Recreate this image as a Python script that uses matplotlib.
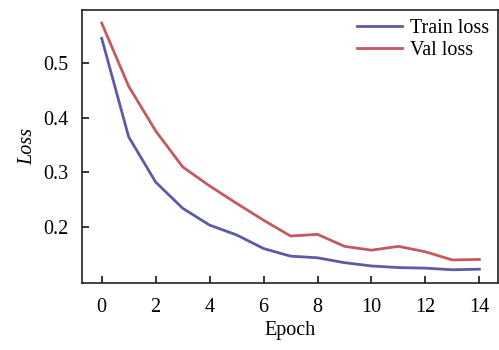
import matplotlib.pyplot as plt

plt.rcParams['font.family'] = ['Liberation Serif', 'DejaVu Serif']

epochs = list(range(15))
train_loss = [0.546, 0.365, 0.282, 0.234, 0.203, 0.185, 0.160, 0.146, 0.143,
              0.134, 0.128, 0.125, 0.124, 0.121, 0.122]
val_loss = [0.574, 0.458, 0.376, 0.310, 0.275, 0.243, 0.212, 0.183, 0.186,
            0.164, 0.157, 0.164, 0.154, 0.139, 0.140]

fig = plt.figure(figsize=(4.99, 3.5), dpi=100)
ax = fig.add_axes([82/499, 1 - 283/350, (498-82)/499, (283-10)/350])

ax.plot(epochs, train_loss, color='#5b5ba8', lw=2, label='Train loss')
ax.plot(epochs, val_loss, color='#c25a60', lw=2, label='Val loss')

ax.set_xlim(-0.73, 14.69)
ax.set_ylim(0.0967, 0.598)
ax.set_xticks(range(0, 15, 2))
ax.set_yticks([0.2, 0.3, 0.4, 0.5])
ax.tick_params(direction='in', labelsize=14.5, length=5, width=1.1)
ax.tick_params(axis='x', pad=11)
ax.tick_params(axis='y', pad=10)
for s in ax.spines.values():
    s.set_linewidth(1.2)
    s.set_color('#222222')

ax.set_xlabel('Epoch', fontsize=14.5, labelpad=3)
ax.set_ylabel('Loss', fontsize=14.5, style='italic', labelpad=4)

ax.legend(loc='upper right', frameon=False, fontsize=14.5, handlelength=2.2,
          handletextpad=0.4, borderaxespad=0.05, labelspacing=0.15)

fig.savefig('out.png', dpi=100)
